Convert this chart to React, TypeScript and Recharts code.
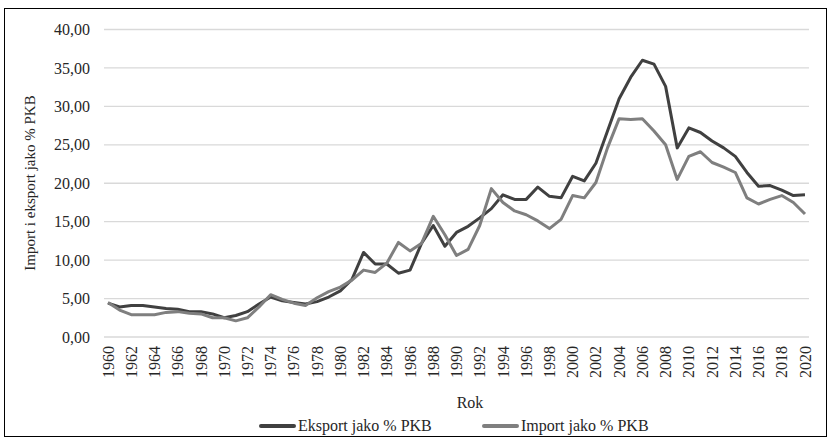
import { LineChart, Line, XAxis, YAxis, CartesianGrid, Legend, Label } from "recharts";

const years = [
  "1960", "1961", "1962", "1963", "1964", "1965", "1966", "1967", "1968", "1969",
  "1970", "1971", "1972", "1973", "1974", "1975", "1976", "1977", "1978", "1979",
  "1980", "1981", "1982", "1983", "1984", "1985", "1986", "1987", "1988", "1989",
  "1990", "1991", "1992", "1993", "1994", "1995", "1996", "1997", "1998", "1999",
  "2000", "2001", "2002", "2003", "2004", "2005", "2006", "2007", "2008", "2009",
  "2010", "2011", "2012", "2013", "2014", "2015", "2016", "2017", "2018", "2019",
  "2020",
];

const eksport = [
  4.4, 3.9, 4.1, 4.1, 3.9, 3.7, 3.6, 3.3, 3.3, 3.0,
  2.5, 2.8, 3.3, 4.3, 5.2, 4.7, 4.5, 4.3, 4.6, 5.2,
  6.0, 7.5, 11.0, 9.5, 9.5, 8.3, 8.7, 12.2, 14.5, 11.8,
  13.6, 14.4, 15.5, 16.7, 18.5, 17.9, 17.9, 19.5, 18.3, 18.1,
  20.9, 20.3, 22.6, 26.8, 31.0, 33.8, 36.0, 35.5, 32.6, 24.6,
  27.2, 26.6, 25.5, 24.6, 23.5, 21.4, 19.6, 19.7, 19.1, 18.4,
  18.5,
];

const importy = [
  4.5, 3.5, 2.9, 2.9, 2.9, 3.2, 3.3, 3.1, 3.0, 2.5,
  2.5, 2.1, 2.5, 3.9, 5.5, 4.9, 4.4, 4.1, 5.1, 5.9,
  6.5, 7.4, 8.7, 8.4, 9.6, 12.3, 11.2, 12.2, 15.7, 13.3,
  10.6, 11.4, 14.5, 19.3, 17.5, 16.4, 15.9, 15.1, 14.1, 15.3,
  18.4, 18.1, 20.1, 24.6, 28.4, 28.3, 28.4, 26.8, 25.0, 20.5,
  23.5, 24.1, 22.7, 22.1, 21.4, 18.1, 17.3, 17.9, 18.4, 17.5,
  16.0,
];

const yTicks = [0, 5, 10, 15, 20, 25, 30, 35, 40];

const data = years.map((rok, i) => ({
  rok,
  eksport: eksport[i],
  import: importy[i],
}));

const FONT = "'Liberation Serif', 'Times New Roman', serif";
const TEXT = "#262626";
const EKSPORT_COLOR = "#404040";
const IMPORT_COLOR = "#7f7f7f";

function YearTick({ x, y, payload }: any) {
  return (
    <text
      x={x}
      y={y}
      transform={`rotate(-90 ${x} ${y})`}
      textAnchor="end"
      dy="0.35em"
      fontSize={16}
      fontFamily={FONT}
      fill={TEXT}
    >
      {payload.value}
    </text>
  );
}

function LegendBox() {
  const item = (color: string, text: string, left: number) => (
    <div style={{ position: "absolute", left, top: 11, display: "flex", alignItems: "center" }}>
      <span style={{ width: 37, height: 4, background: color, borderRadius: 2, marginRight: 2 }} />
      <span style={{ fontSize: 16, fontFamily: FONT, color: TEXT }}>{text}</span>
    </div>
  );
  return (
    <div style={{ position: "relative", width: 832, height: 30 }}>
      {item(EKSPORT_COLOR, "Eksport jako % PKB", 259)}
      {item(IMPORT_COLOR, "Import jako % PKB", 482)}
    </div>
  );
}

export default function App() {
  return (
    <div style={{ position: "fixed", left: 0, top: 0, width: 832, height: 444, background: "#fff" }}>
      <LineChart
        width={832}
        height={444}
        data={data}
        margin={{ top: 29.5, right: 23, left: 44, bottom: 8 }}
      >
        <CartesianGrid vertical={false} stroke="#d9d9d9" strokeWidth={1.3} />
        <XAxis
          dataKey="rok"
          interval={1}
          height={69}
          tickSize={0}
          tickMargin={9}
          axisLine={false}
          tickLine={false}
          padding={{ left: 4, right: 4 }}
          tick={<YearTick />}
        >
          <Label
            content={() => (
              <text x={470} y={408} textAnchor="middle" fontSize={16} fontFamily={FONT} fill={TEXT}>
                Rok
              </text>
            )}
          />
        </XAxis>
        <YAxis
          width={60}
          domain={[0, 40]}
          ticks={yTicks}
          tickSize={0}
          tickMargin={14}
          axisLine={false}
          tickLine={false}
          tickFormatter={(v: number) => v.toFixed(2).replace(".", ",")}
          tick={{ fontSize: 16, fontFamily: FONT, fill: TEXT }}
        >
          <Label
            content={() => (
              <text
                x={30}
                y={183}
                transform="rotate(-90 30 183)"
                textAnchor="middle"
                dominantBaseline="central"
                fontSize={15}
                fontFamily={FONT}
                fill={TEXT}
              >
                Import i eksport jako % PKB
              </text>
            )}
          />
        </YAxis>
        <Legend verticalAlign="bottom" height={30} content={<LegendBox />} wrapperStyle={{ left: 0, width: 832 }} />
        <Line
          type="linear"
          dataKey="eksport"
          name="Eksport jako % PKB"
          stroke={EKSPORT_COLOR}
          strokeWidth={3}
          strokeLinejoin="round"
          dot={false}
          isAnimationActive={false}
        />
        <Line
          type="linear"
          dataKey="import"
          name="Import jako % PKB"
          stroke={IMPORT_COLOR}
          strokeWidth={3}
          strokeLinejoin="round"
          dot={false}
          isAnimationActive={false}
        />
      </LineChart>
      <div
        style={{
          position: "absolute",
          left: 4,
          top: 8,
          width: 823,
          height: 429,
          border: "1px solid #000",
          boxSizing: "border-box",
          pointerEvents: "none",
        }}
      />
    </div>
  );
}
